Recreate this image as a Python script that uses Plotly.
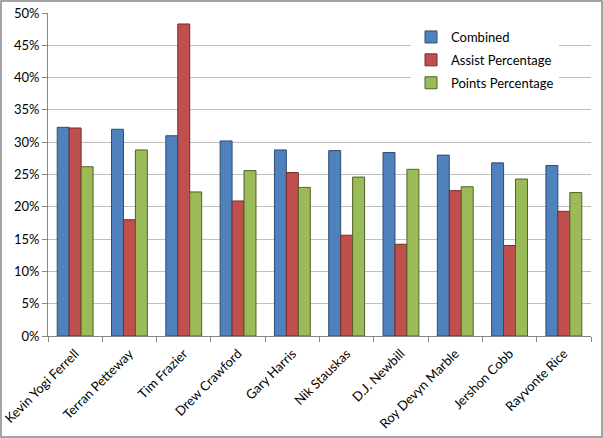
import plotly.graph_objects as go

players = ["Kevin Yogi Ferrell", "Terran Petteway", "Tim Frazier", "Drew Crawford",
           "Gary Harris", "Nik Stauskas", "D.J. Newbill", "Roy Devyn Marble",
           "Jershon Cobb", "Rayvonte Rice"]
combined = [32.3, 32.0, 31.0, 30.2, 28.8, 28.7, 28.4, 28.0, 26.8, 26.4]
assist_pct = [32.2, 18.0, 48.3, 20.9, 25.3, 15.6, 14.2, 22.5, 14.0, 19.3]
points_pct = [26.2, 28.8, 22.3, 25.6, 23.0, 24.6, 25.8, 23.1, 24.3, 22.2]
y_ticks = [0, 5, 10, 15, 20, 25, 30, 35, 40, 45, 50]
y_tick_labels = [f"{v}%" for v in y_ticks]

FONT = "Lato, Carlito, Calibri, sans-serif"

series = [
    ("Combined", combined, "#4F81BD", "#2C4D75"),
    ("Assist Percentage", assist_pct, "#C0504D", "#772C2A"),
    ("Points Percentage", points_pct, "#9BBB59", "#4F6228"),
]

fig = go.Figure()
for name, vals, col, edge in series:
    fig.add_trace(go.Bar(
        x=players, y=vals, name=name, legendgroup=name,
        marker=dict(color=col, line=dict(color=edge, width=1)),
    ))

L, R, T, B = 48, 12, 13, 102
W, H = 603, 438
pw, ph = W - L - R, H - T - B

def px_to_paper_x(p):
    return (p - L) / pw

def px_to_paper_y(p):
    return (H - B - p) / ph

fig.update_layout(
    width=W, height=H,
    margin=dict(l=L, r=R, t=T, b=B, autoexpand=False),
    paper_bgcolor="white", plot_bgcolor="white",
    barmode="group", bargap=0.34, bargroupgap=0,
    font=dict(family=FONT, size=13, color="#000000"),
    showlegend=True,
    legend=dict(
        x=px_to_paper_x(411), y=px_to_paper_y(22), xanchor="left", yanchor="top",
        bgcolor="white", font=dict(family=FONT, size=13, color="#000000"),
        traceorder="grouped", tracegroupgap=3, itemwidth=30,
    ),
    xaxis=dict(
        type="category", tickangle=-45, showgrid=False, automargin=False,
        showline=True, linecolor="#868686", linewidth=1,
        ticks="outside", tickson="boundaries", ticklen=5, tickcolor="#868686",
        tickfont=dict(family=FONT, size=13, color="#000000"),
        ticklabelstandoff=4,
    ),
    yaxis=dict(
        range=[0, 50], tickvals=y_ticks, ticktext=y_tick_labels, automargin=False,
        showgrid=True, gridcolor="#C0C0C0", gridwidth=1,
        showline=True, linecolor="#868686", linewidth=1,
        ticks="outside", ticklen=5, tickcolor="#868686",
        tickfont=dict(family=FONT, size=13, color="#000000"),
        zeroline=False,
    ),
    shapes=[dict(
        type="rect", xref="paper", yref="paper",
        x0=px_to_paper_x(1), x1=px_to_paper_x(602),
        y0=px_to_paper_y(437), y1=px_to_paper_y(1),
        line=dict(color="#868686", width=1.5), fillcolor="rgba(0,0,0,0)",
        layer="above",
    )],
)

fig.write_html(
    "out.html",
    config={"displayModeBar": False},
    post_script="document.body.style.margin='0px';document.body.style.overflow='hidden';",
)
